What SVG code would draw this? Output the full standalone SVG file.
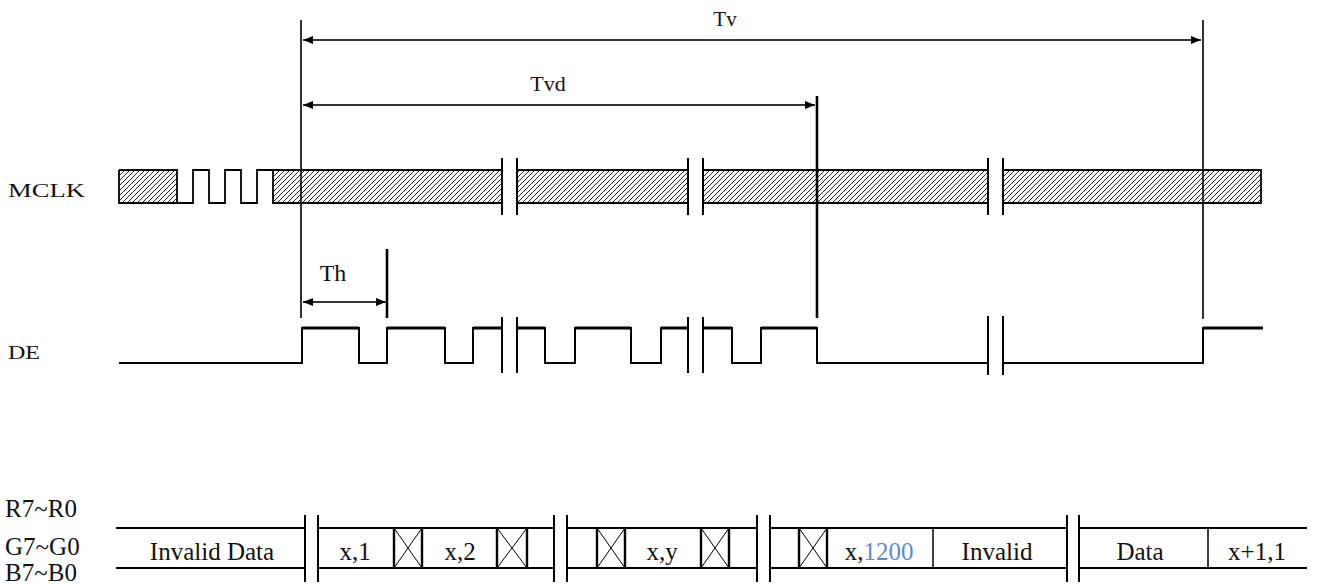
<svg xmlns="http://www.w3.org/2000/svg" width="1318" height="585" viewBox="0 0 1318 585">
<defs>
<pattern id="hatch" patternUnits="userSpaceOnUse" width="5" height="5">
<path d="M0,5 L5,0 M-1,1 L1,-1 M4,6 L6,4" stroke="#222" stroke-width="1"/>
</pattern>
<marker id="ah" viewBox="0 0 10 10" refX="10" refY="5" markerWidth="10" markerHeight="10" markerUnits="userSpaceOnUse" orient="auto-start-reverse">
<path d="M0,1 L10,5 L0,9 Z" fill="#000"/>
</marker>
<style>
.lbl{font-family:"Liberation Serif","Times New Roman",serif;fill:#111}
.sig{font-family:"Liberation Serif","Times New Roman",serif;font-size:19px;fill:#111}
.dat{font-family:"Liberation Serif","Times New Roman",serif;font-size:25px;fill:#111;text-anchor:middle}
.ln{stroke:#000;fill:none}
.brk{stroke:#000;stroke-width:2;fill:none}
.dim{stroke:#333;stroke-width:2;fill:none}
.hat{fill:url(#hatch);stroke:none}
</style>
</defs>
<rect width="1318" height="585" fill="#fff"/>

<g id="labels">
<text class="sig" x="8" y="197" textLength="77" lengthAdjust="spacingAndGlyphs">MCLK</text>
<text class="sig" x="8" y="359" textLength="32" lengthAdjust="spacingAndGlyphs">DE</text>
<text class="lbl" x="5" y="517" font-size="25">R7~R0</text>
<text class="lbl" x="5" y="555" font-size="25">G7~G0</text>
<text class="lbl" x="5" y="581" font-size="25">B7~B0</text>
</g>

<g id="mclk">
<rect class="hat" x="119" y="170" width="58" height="33"/>
<rect class="hat" x="273" y="170" width="229" height="33"/>
<rect class="hat" x="517" y="170" width="171" height="33"/>
<rect class="hat" x="703" y="170" width="285" height="33"/>
<rect class="hat" x="1003" y="170" width="258" height="33"/>
<path class="ln" stroke-width="1.8" d="M119,170 V203 H193 V170 H209 V203 H225 V170 H241 V203 H257 V170 H273 V203 H502 M119,170 H177 V203 M273,170 H502"/>
<path class="ln" stroke-width="1.8" d="M517,170 H688 M517,203 H688 M703,170 H988 M703,203 H988 M1003,170 H1261 V203 H1003"/>
<path class="brk" d="M502,158 V215 M517,158 V215 M688,158 V215 M703,158 V215 M988,158 V215 M1003,158 V215"/>
</g>

<g id="de">
<polyline class="ln" stroke-width="2" points="119,363 302,363 302,328 359,328 359,363 387,363 387,328 445,328 445,363 473,363 473,328 502,328"/>
<polyline class="ln" stroke-width="2" points="517,328 545,328 545,363 575,363 575,328 631,328 631,363 661,363 661,328 688,328"/>
<polyline class="ln" stroke-width="2" points="703,328 732,328 732,363 761,363 761,328 817,328 817,363 988,363"/>
<polyline class="ln" stroke-width="2" points="1003,363 1203,363 1203,328 1263,328"/>
<path class="ln" stroke-width="3.2" d="M302,328 H359 M387,328 H445 M473,328 H502 M517,328 H545 M575,328 H631 M661,328 H688 M703,328 H732 M761,328 H817 M1203,328 H1263"/>
<path class="brk" d="M502,317 V373 M517,317 V373 M688,317 V373 M703,317 V373 M988,316 V375 M1003,316 V375"/>
</g>

<g id="bus">
<path class="ln" stroke-width="2" d="M116,528 H305 M116,568 H305 M318,528 H554 M318,568 H554 M567,528 H757 M567,568 H757 M770,528 H1067 M770,568 H1067 M1079,528 H1307 M1079,568 H1307"/>
<path class="brk" stroke-width="2.2" d="M305,515 V582 M318,515 V582 M554,515 V582 M567,515 V582 M757,515 V582 M770,515 V582 M1067,515 V582 M1079,515 V582"/>
<path class="ln" stroke-width="2.4" d="M394,528 V568 M422,528 V568 M497,528 V568 M527,528 V568 M597,528 V568 M625,528 V568 M701,528 V568 M729,528 V568 M799,528 V568 M827,528 V568"/>
<path class="ln" stroke-width="1" d="M394,528 L422,568 M422,528 L394,568 M497,528 L527,568 M527,528 L497,568 M597,528 L625,568 M625,528 L597,568 M701,528 L729,568 M729,528 L701,568 M799,528 L827,568 M827,528 L799,568"/>
<path class="ln" stroke-width="1.5" d="M933,528 V568 M1208,528 V568"/>
<text class="dat" x="212" y="560">Invalid Data</text>
<text class="dat" x="355" y="560">x,1</text>
<text class="dat" x="460" y="560">x,2</text>
<text class="dat" x="662" y="560">x,y</text>
<text class="dat" x="879" y="560">x,<tspan fill="#5a8ccc">1200</tspan></text>
<text class="dat" x="997" y="560">Invalid</text>
<text class="dat" x="1140" y="560">Data</text>
<text class="dat" x="1257" y="560">x+1,1</text>
</g>

<g id="timing">
<path class="ln" stroke-width="1.6" d="M301,20 V318 M1203,20 V319"/>
<path class="ln" stroke-width="2.6" d="M817,96 V318 M387,249 V318"/>
<line class="dim" x1="303" y1="40" x2="1201" y2="40" marker-start="url(#ah)" marker-end="url(#ah)"/>
<line class="dim" x1="303" y1="105" x2="815" y2="105" marker-start="url(#ah)" marker-end="url(#ah)"/>
<line class="dim" x1="303" y1="302" x2="386" y2="302" marker-start="url(#ah)" marker-end="url(#ah)"/>
<text class="lbl" x="725" y="26" font-size="21" text-anchor="middle">Tv</text>
<text class="lbl" x="548" y="91" font-size="22" text-anchor="middle">Tvd</text>
<text class="lbl" x="333" y="281" font-size="24" text-anchor="middle">Th</text>
</g>
</svg>
